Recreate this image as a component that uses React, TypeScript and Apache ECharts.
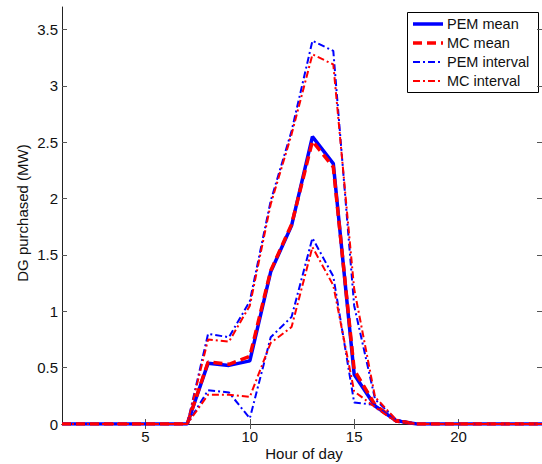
import React, { useEffect, useRef } from "react";
import * as echarts from "echarts";

const hours = Array.from({ length: 24 }, (_, i) => i + 1);
//                   1  2  3  4  5  6  7  8     9     10    11    12    13    14    15    16    17    18 19 20 21 22 23 24
const pemMean =     [0, 0, 0, 0, 0, 0, 0, 0.54, 0.52, 0.56, 1.35, 1.76, 2.55, 2.31, 0.44, 0.16, 0.03, 0, 0, 0, 0, 0, 0, 0];
const mcMean =      [0, 0, 0, 0, 0, 0, 0, 0.55, 0.53, 0.60, 1.36, 1.77, 2.51, 2.28, 0.48, 0.17, 0.03, 0, 0, 0, 0, 0, 0, 0];
const pemUpper =    [0, 0, 0, 0, 0, 0, 0, 0.80, 0.77, 1.09, 1.98, 2.60, 3.40, 3.31, 1.05, 0.22, 0.04, 0, 0, 0, 0, 0, 0, 0];
const pemLower =    [0, 0, 0, 0, 0, 0, 0, 0.30, 0.28, 0.05, 0.77, 0.95, 1.65, 1.31, 0.19, 0.17, 0.02, 0, 0, 0, 0, 0, 0, 0];
const mcUpper =     [0, 0, 0, 0, 0, 0, 0, 0.75, 0.73, 1.05, 1.95, 2.57, 3.28, 3.19, 1.20, 0.24, 0.04, 0, 0, 0, 0, 0, 0, 0];
const mcLower =     [0, 0, 0, 0, 0, 0, 0, 0.26, 0.26, 0.24, 0.72, 0.86, 1.57, 1.23, 0.29, 0.15, 0.02, 0, 0, 0, 0, 0, 0, 0];
const xTicks = [5, 10, 15, 20];
const yTicks = [0, 0.5, 1, 1.5, 2, 2.5, 3, 3.5];
const legendNames = ["PEM mean", "MC mean", "PEM interval", "MC interval"];

const FONT = "'Liberation Sans', Arial, sans-serif";
const BLUE = "#0000ff";
const RED = "#ff0000";
const DASH = [9, 5];
const DASHDOT = [7, 3, 2, 3];
const legendStyles = [
  { color: BLUE, width: 3.5, dash: null as any },
  { color: RED, width: 3.5, dash: DASH },
  { color: BLUE, width: 2, dash: DASHDOT },
  { color: RED, width: 2, dash: DASHDOT },
];
const pair = (arr: number[]) => hours.map((h, i) => [h, arr[i]]);

export default function App() {
  const ref = useRef<HTMLDivElement>(null);
  useEffect(() => {
    if (!ref.current) return;
    const chart = echarts.init(ref.current, undefined, { renderer: "svg" });
    const mkLine = (name: string, data: number[], color: string, width: number, type: any, z: number) => ({
      name,
      type: "line",
      data: pair(data),
      symbol: "none",
      z,
      lineStyle: { color, width, type },
      itemStyle: { color },
    });
    const legendEls: any[] = [
      {
        type: "rect",
        shape: { x: 407.5, y: 12.5, width: 131, height: 80 },
        style: { fill: "#fff", stroke: "#000", lineWidth: 1 },
      },
    ];
    legendNames.forEach((n, i) => {
      const y = 24 + i * 19;
      const s = legendStyles[i];
      legendEls.push({
        type: "line",
        shape: { x1: 413, y1: y, x2: 443, y2: y },
        style: { stroke: s.color, lineWidth: s.width, lineDash: s.dash || undefined },
      });
      legendEls.push({
        type: "text",
        x: 447,
        y,
        style: { text: n, font: `14.5px ${FONT}`, fill: "#111", verticalAlign: "middle" },
      });
    });
    chart.setOption({
      animation: false,
      backgroundColor: "#fff",
      textStyle: { fontFamily: FONT },
      grid: { left: 62, top: 7, width: 484, height: 417, containLabel: false },
      graphic: {
        elements: [
          { type: "group", z: 100, children: legendEls },
          {
            type: "text",
            x: 304,
            y: 453,
            style: { text: "Hour of day", font: `15px ${FONT}`, fill: "#111", align: "center", verticalAlign: "middle" },
          },
          {
            type: "text",
            x: 22,
            y: 213,
            rotation: Math.PI / 2,
            style: { text: "DG purchased (MW)", font: `15px ${FONT}`, fill: "#111", align: "center", verticalAlign: "middle" },
          },
        ],
      },
      xAxis: [
        {
          type: "value",
          min: 1,
          max: 24,
          position: "bottom",
          axisLine: { show: true, lineStyle: { color: "#222", width: 1 } },
          axisTick: { show: true, inside: true, length: 5, customValues: xTicks, lineStyle: { color: "#555" } },
          axisLabel: { customValues: xTicks, fontFamily: FONT, fontSize: 15, color: "#111", margin: 5 },
          splitLine: { show: false },
        },
        {
          type: "value",
          min: 1,
          max: 24,
          position: "top",
          axisLine: { show: true, lineStyle: { color: "#222", width: 1 } },
          axisTick: { show: true, inside: true, length: 5, customValues: xTicks, lineStyle: { color: "#555" } },
          axisLabel: { show: false },
          splitLine: { show: false },
        },
      ],
      yAxis: [
        {
          type: "value",
          min: 0,
          max: 3.7,
          position: "left",
          axisLine: { show: true, lineStyle: { color: "#222", width: 1 } },
          axisTick: { show: true, inside: true, length: 5, customValues: yTicks, lineStyle: { color: "#555" } },
          axisLabel: { customValues: yTicks, fontFamily: FONT, fontSize: 15, color: "#111", margin: 4 },
          splitLine: { show: false },
        },
        {
          type: "value",
          min: 0,
          max: 3.7,
          position: "right",
          axisLine: { show: true, lineStyle: { color: "#222", width: 1 } },
          axisTick: { show: true, inside: true, length: 5, customValues: yTicks, lineStyle: { color: "#555" } },
          axisLabel: { show: false },
          splitLine: { show: false },
        },
      ],
      series: [
        mkLine("PEM mean", pemMean, BLUE, 3.5, "solid", 2),
        mkLine("MC mean", mcMean, RED, 3.5, DASH, 3),
        mkLine("PEM interval", pemUpper, BLUE, 2, DASHDOT, 4),
        mkLine("PEM interval", pemLower, BLUE, 2, DASHDOT, 4),
        mkLine("MC interval", mcUpper, RED, 2, DASHDOT, 5),
        mkLine("MC interval", mcLower, RED, 2, DASHDOT, 5),
      ],
    });
    return () => chart.dispose();
  }, []);
  return <div ref={ref} style={{ position: "fixed", left: 0, top: 0, width: 542, height: 464 }} />;
}
